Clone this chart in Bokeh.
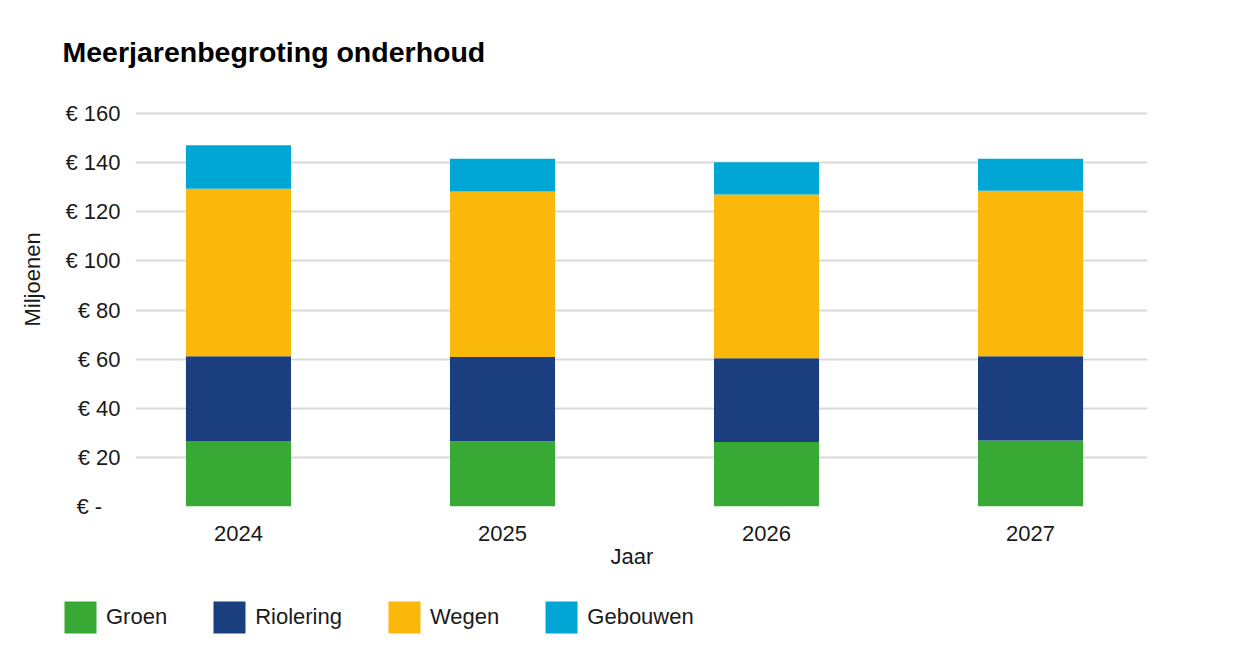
from bokeh.plotting import figure
from bokeh.models import ColumnDataSource, Range1d, Legend, LegendItem, FixedTicker, Title
from bokeh.layouts import column
from bokeh.embed import file_html
from bokeh.resources import INLINE

# ---- data ----
years = ["2024", "2025", "2026", "2027"]
series = ["Groen", "Riolering", "Wegen", "Gebouwen"]
groen = [26.5, 26.6, 26.3, 26.9]
riolering = [34.7, 34.3, 34.1, 34.3]
wegen = [68.2, 67.3, 66.6, 67.4]
gebouwen = [17.7, 13.4, 13.2, 13.0]
colors = ["#38A935", "#1B3F7E", "#FAB80A", "#00A6D4"]
y_ticks = [0, 20, 40, 60, 80, 100, 120, 140, 160]
y_tick_labels = ["€ -\u00a0\u00a0\u00a0", "€ 20", "€ 40", "€ 60", "€ 80", "€ 100", "€ 120", "€ 140", "€ 160"]

FONT = "Liberation Sans"
TXT = "#1a1a1a"
W = 1258
H_MAIN, H_LEG = 580, 88
FL, FR, FT, FB = 135, 1147, 100, 506
X0, X1 = -0.39, 3.443
Y0, Y1 = 0, 165.3

src = ColumnDataSource(dict(x=list(range(len(years))), Groen=groen, Riolering=riolering,
                            Wegen=wegen, Gebouwen=gebouwen))

p = figure(width=W, height=H_MAIN, output_backend="svg", toolbar_location=None,
           x_range=Range1d(X0, X1), y_range=Range1d(Y0, Y1),
           min_border_left=FL, min_border_right=W - FR, min_border_top=FT,
           min_border_bottom=H_MAIN - FB)
p.frame_align = False
p.outline_line_color = None
p.background_fill_color = "white"
p.border_fill_color = "white"

rs = p.vbar_stack(series, x="x", width=0.398, color=colors, line_color=None, source=src)

# axes
p.xaxis.ticker = FixedTicker(ticks=list(range(len(years))))
p.xaxis.major_label_overrides = {i: y for i, y in enumerate(years)}
p.xaxis.major_label_text_font = FONT
p.xaxis.major_label_text_font_size = "22px"
p.xaxis.major_label_text_color = TXT
p.xaxis.major_label_standoff = 19
p.xaxis.major_tick_out = 0
p.xaxis.major_tick_in = 0
p.xaxis.axis_line_color = None
p.xaxis.major_tick_line_color = None
p.xaxis.minor_tick_line_color = None

p.yaxis.ticker = FixedTicker(ticks=y_ticks)
p.yaxis.major_label_overrides = {t: l for t, l in zip(y_ticks, y_tick_labels)}
p.yaxis.major_label_text_font = FONT
p.yaxis.major_label_text_font_size = "22px"
p.yaxis.major_label_text_color = TXT
p.yaxis.major_label_standoff = 15
p.yaxis.major_tick_out = 0
p.yaxis.major_tick_in = 0
p.yaxis.axis_line_color = None
p.yaxis.major_tick_line_color = None
p.yaxis.minor_tick_line_color = None

p.xgrid.grid_line_color = None
p.ygrid.grid_line_color = "#d9d9d9"
p.ygrid.grid_line_width = 2
p.ygrid.level = "underlay"

# main title
p.title.text = "Meerjarenbegroting onderhoud"
p.title.text_font = FONT
p.title.text_font_size = "28.5px"
p.title.text_font_style = "bold"
p.title.text_color = "#000000"
p.title.align = "left"
p.title.offset = 62 - FL
p.title.vertical_align = "bottom"
p.title.standoff = 66

# y axis label as a left title
p.add_layout(Title(text="Miljoenen", align="left", offset=FB - 326, vertical_align="middle",
                   standoff=34, text_font=FONT, text_font_size="22px",
                   text_font_style="normal", text_color=TXT), "left")

# x axis label as a below title
p.add_layout(Title(text="Jaar", align="left", offset=610 - FL, vertical_align="top",
                   standoff=0, text_font=FONT, text_font_size="22px",
                   text_font_style="normal", text_color=TXT), "below")

# legend strip: same stacked series drawn outside its visible range, only the legend shows
pl = figure(width=W, height=H_LEG, output_backend="svg", toolbar_location=None,
            x_range=Range1d(X0, X1), y_range=Range1d(1000, 1001),
            x_axis_location=None, y_axis_location=None,
            min_border_left=0, min_border_right=0, min_border_top=0, min_border_bottom=0)
pl.frame_align = False
pl.outline_line_color = None
pl.grid.visible = False
pl.background_fill_color = "white"
pl.border_fill_color = "white"
swatches = pl.vbar_stack(series, x="x", width=0.398, color=colors, line_color=None, source=src)

GLYPH = 40  # drawn swatch is inset 10% per side -> 32 px square
legend = Legend(items=[LegendItem(label=n, renderers=[r]) for n, r in zip(series, swatches)],
                location=(60, H_LEG - (597 - H_MAIN) - GLYPH), orientation="horizontal",
                glyph_width=GLYPH, glyph_height=GLYPH, label_standoff=6,
                label_text_font=FONT, label_text_font_size="22px", label_text_color=TXT,
                label_height=GLYPH, padding=0, margin=0, spacing=42,
                border_line_color=None, background_fill_alpha=0)
pl.add_layout(legend, "center")

layout = column(p, pl, spacing=0)
open("out.html", "w").write(file_html(layout, INLINE))
